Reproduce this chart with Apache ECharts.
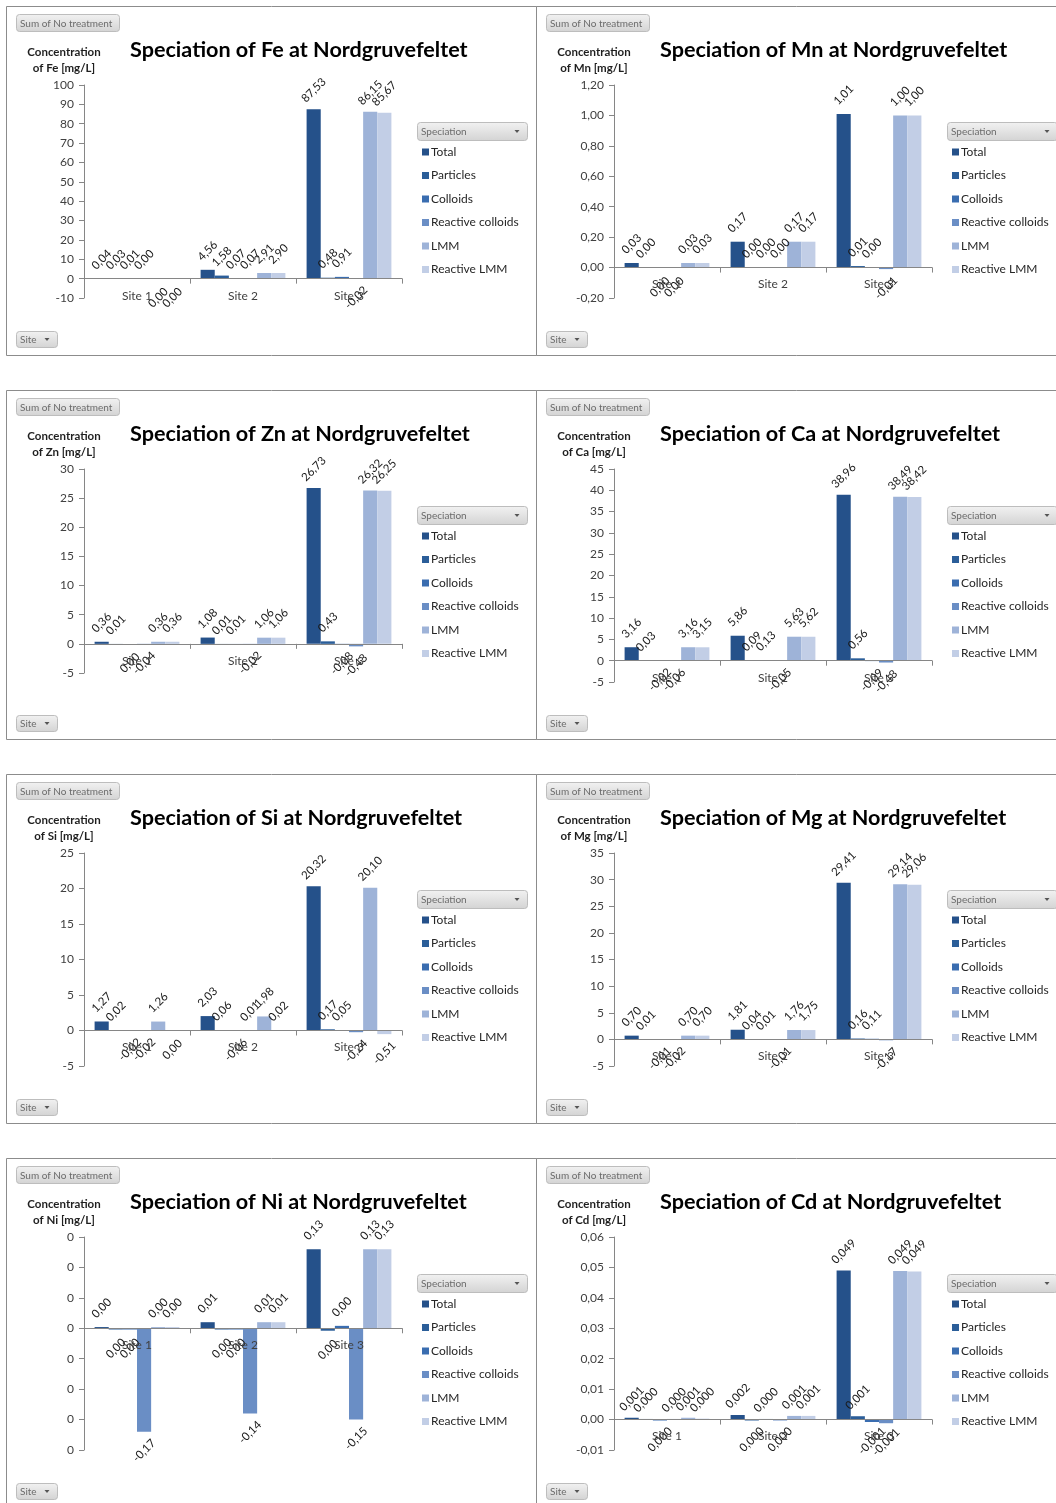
<!DOCTYPE html>
<html><head><meta charset="utf-8">
<script src="https://cdn.jsdelivr.net/npm/echarts@6/dist/echarts.min.js"></script>
<style>html,body{margin:0;padding:0;background:#fff}#c{width:1056px;height:1503px}</style>
</head><body><div id="c"></div>
<script>
// ---------- data ----------
const sites = ['Site 1', 'Site 2', 'Site 3'];
const speciation = ['Total', 'Particles', 'Colloids', 'Reactive colloids', 'LMM', 'Reactive LMM'];
const elements = ['Fe', 'Mn', 'Zn', 'Ca', 'Si', 'Mg', 'Ni', 'Cd'];

// rows follow `speciation`, columns follow `sites`  (mg/L)
const feValues = [
  [0.04, 4.56, 87.53],
  [0.03, 1.58, 0.48],
  [0.01, 0.07, 0.91],
  [0.002, 0.07, -0.02],
  [-0.002, 2.91, 86.15],
  [-0.003, 2.90, 85.67]
];
const mnValues = [
  [0.03, 0.17, 1.01],
  [0.002, 0.002, 0.01],
  [-0.003, 0.002, 0.002],
  [-0.003, 0.001, -0.01],
  [0.03, 0.17, 1.00],
  [0.03, 0.17, 1.00]
];
const znValues = [
  [0.36, 1.08, 26.73],
  [0.01, 0.01, 0.43],
  [-0.004, 0.01, -0.08],
  [-0.04, -0.02, -0.43],
  [0.36, 1.06, 26.32],
  [0.36, 1.06, 26.25]
];
const caValues = [
  [3.16, 5.86, 38.96],
  [0.03, 0.09, 0.56],
  [-0.02, 0.13, -0.09],
  [-0.06, -0.05, -0.43],
  [3.16, 5.63, 38.49],
  [3.15, 5.62, 38.42]
];
const siValues = [
  [1.27, 2.03, 20.32],
  [0.02, 0.06, 0.17],
  [-0.02, -0.06, 0.05],
  [-0.02, 0.01, -0.24],
  [1.26, 1.98, 20.10],
  [-0.003, 0.02, -0.51]
];
const mgValues = [
  [0.70, 1.81, 29.41],
  [0.01, 0.04, 0.16],
  [-0.01, 0.01, 0.11],
  [-0.02, -0.01, -0.17],
  [0.70, 1.76, 29.14],
  [0.70, 1.75, 29.06]
];
const niValues = [
  [0.002, 0.01, 0.13],
  [-0.002, -0.002, -0.004],
  [-0.002, -0.002, 0.004],
  [-0.17, -0.14, -0.15],
  [0.002, 0.01, 0.13],
  [0.002, 0.01, 0.13]
];
const cdValues = [
  [0.0006, 0.0015, 0.049],
  [0.0002, -0.0003, 0.0011],
  [-0.0003, 0.0002, -0.0008],
  [0.0002, -0.0003, -0.0012],
  [0.0006, 0.0012, 0.0488],
  [0.0003, 0.0012, 0.0487]
];
const allValues = [feValues, mnValues, znValues, caValues, siValues, mgValues, niValues, cdValues];

// y-axis scales: [min, max, interval]
const yMin = [-10, -0.2, -5, -5, -5, -5, -0.2, -0.01];
const yMax = [100, 1.2, 30, 45, 25, 35, 0.15, 0.06];
const yStep = [10, 0.2, 5, 5, 5, 5, 0.05, 0.01];
const yTickDecimals = [0, 2, 0, 0, 0, 0, 0, 2];
const labelDecimals = [2, 2, 2, 2, 2, 2, 2, 3];

// ---------- styling ----------
const colors = ['#25518a', '#2b5e99', '#3a6db0', '#6a8ec5', '#9eb3d8', '#c2cee6'];
const FONT = 'Lato, "Open Sans", sans-serif';

function fmt(v, d) {
  let s = Math.abs(v).toFixed(d);
  if (v < 0 && parseFloat(s) !== 0) s = '-' + s;
  return s.replace('.', ',');
}

const grids = [], xAxes = [], yAxes = [], series = [], titles = [], legends = [], graphics = [];

function button(x, y, w, h, text, arrow) {
  graphics.push({
    type: 'rect', shape: { x: x + 0.5, y: y + 0.5, width: w, height: h, r: 3 },
    style: {
      fill: new echarts.graphic.LinearGradient(0, 0, 0, 1, [
        { offset: 0, color: '#f2f2f2' }, { offset: 1, color: '#d3d3d3' }]),
      stroke: '#bdbdbd', lineWidth: 1
    }, z: 10
  });
  graphics.push({
    type: 'text', x: x + 4, y: y + h / 2 + 1,
    style: { text: text, fontSize: 10, fill: '#6b6b6b', fontFamily: FONT, verticalAlign: 'middle' }, z: 11
  });
  if (arrow) {
    const ax = x + w - 10, ay = y + h / 2 - 1;
    graphics.push({
      type: 'polygon', shape: { points: [[ax - 2.5, ay], [ax + 2.5, ay], [ax, ay + 3]] },
      style: { fill: '#555' }, z: 11
    });
  }
}

elements.forEach((el, i) => {
  const cx = (i % 2) * 530;
  const ry = Math.floor(i / 2) * 384;
  const gh = el === 'Zn' ? 204 : 213;

  // panel frame
  graphics.push({
    type: 'rect', shape: { x: 6.5 + cx, y: 6.5 + ry, width: 530, height: 349 },
    style: { fill: 'none', stroke: '#8c8c8c', lineWidth: 1 }, z: 1
  });
  button(16 + cx, 14 + ry, 103, 17, 'Sum of No treatment', false);
  button(417 + cx, 122 + ry, 110, 18, 'Speciation', true);
  button(16 + cx, 331 + ry, 41, 16, 'Site', true);

  // y-axis name
  graphics.push({
    type: 'text', x: 64 + cx, y: 52 + ry,
    style: { text: 'Concentration', fontSize: 11.5, fontWeight: 'bold', fill: '#1f1f1f', fontFamily: FONT, align: 'center', verticalAlign: 'middle' }
  });
  graphics.push({
    type: 'text', x: 64 + cx, y: 68 + ry,
    style: { text: 'of ' + el + ' [mg/L]', fontSize: 11.5, fontWeight: 'bold', fill: '#1f1f1f', fontFamily: FONT, align: 'center', verticalAlign: 'middle' }
  });

  titles.push({
    text: 'Speciation of ' + el + ' at Nordgruvefeltet',
    left: 130 + cx, top: 39 + ry, padding: 0,
    textStyle: { fontSize: 21.6, fontWeight: 'bold', color: '#000', fontFamily: FONT }
  });

  grids.push({ left: 84 + cx, top: 85 + ry, width: 318, height: gh, containLabel: false });

  // category labels sit just under the zero line
  const zeroFromBottom = gh * (-yMin[i]) / (yMax[i] - yMin[i]);
  xAxes.push({
    type: 'category', gridIndex: i, data: sites, z: 5,
    axisLine: { onZero: true, lineStyle: { color: '#868686' } },
    axisTick: { show: true, length: 5, alignWithLabel: false, lineStyle: { color: '#868686' } },
    axisLabel: { fontSize: 12, color: '#404040', margin: 11 - zeroFromBottom, fontFamily: FONT }
  });

  const td = yTickDecimals[i];
  yAxes.push({
    type: 'value', gridIndex: i, min: yMin[i], max: yMax[i], interval: yStep[i],
    axisLine: { show: true, lineStyle: { color: '#868686' } },
    axisTick: { show: true, length: 5, lineStyle: { color: '#868686' } },
    splitLine: { show: false },
    axisLabel: {
      fontSize: 12, color: '#404040', margin: 10, fontFamily: FONT,
      formatter: v => { let s = v.toFixed(td); if (parseFloat(s) === 0) s = s.replace('-', ''); return s.replace('.', ','); }
    }
  });

  const ld = labelDecimals[i];
  speciation.forEach((sp, s) => {
    series.push({
      type: 'bar', name: sp, xAxisIndex: i, yAxisIndex: i,
      data: allValues[i][s],
      itemStyle: { color: colors[s] },
      barGap: '0%', barCategoryGap: '20%',
      animation: false,
      label: {
        show: true, position: 'outside', distance: 19, rotate: 45,
        align: 'center', verticalAlign: 'middle',
        fontSize: 11.5, color: '#1a1a1a', fontFamily: FONT,
        formatter: p => fmt(p.value, ld)
      }
    });
  });

  legends.push({
    orient: 'vertical', left: 422 + cx, top: 145 + ry, padding: 0,
    data: speciation, icon: 'rect', itemWidth: 7, itemHeight: 7, itemGap: 9.5,
    selectedMode: false,
    textStyle: { fontSize: 12, color: '#262626', fontFamily: FONT, lineHeight: 14, padding: [0, 0, 0, -3] }
  });
});

const chart = echarts.init(document.getElementById('c'), null, { renderer: 'canvas' });
chart.setOption({
  backgroundColor: '#fff',
  animation: false,
  title: titles,
  grid: grids,
  xAxis: xAxes,
  yAxis: yAxes,
  legend: legends,
  series: series,
  graphic: graphics
});
</script>
</body></html>
